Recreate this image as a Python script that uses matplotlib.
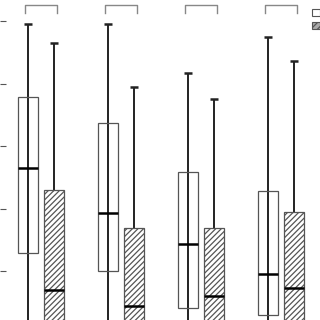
import matplotlib
matplotlib.use("Agg")
import matplotlib.pyplot as plt
from matplotlib.patches import Patch

# values (units of the left ticks)
groups = [1, 2, 3, 4]
open_top = [4.95, 4.95, 4.17, 4.74]
open_q3 = [3.78, 3.37, 2.58, 2.28]
open_med = [2.65, 1.93, 1.43, 0.95]
open_q1 = [1.29, 1.00, 0.41, 0.30]
open_low = [0.0, 0.0, 0.0, 0.0]

hatch_top = [4.65, 3.94, 3.75, 4.36]
hatch_q3 = [2.30, 1.69, 1.69, 1.94]
hatch_med = [0.70, 0.44, 0.60, 0.73]
hatch_q1 = [0.0, 0.0, 0.0, 0.0]
hatch_low = [0.0, 0.0, 0.0, 0.0]

yticks = [1, 2, 3, 4, 5]
legend_labels = ["Control", "Treatment"]

off = 0.1625
w = 0.24

plt.rcParams["hatch.color"] = "#555555"
plt.rcParams["hatch.linewidth"] = 0.9

fig = plt.figure(figsize=(3.2, 3.2), dpi=100)
ax = fig.add_axes([0, 0, 1, 1])

def draw(xs, top, q3, med, q1, low, hatched):
    ax.vlines(xs, low, top, color="#222222", lw=1.4, zorder=1)
    ax.hlines(top, [x - 0.055 for x in xs], [x + 0.055 for x in xs],
              color="#222222", lw=1.8, zorder=3)
    if hatched:
        ax.bar(xs, [a - b for a, b in zip(q3, q1)], bottom=q1, width=w,
               facecolor="white", edgecolor="#555555", hatch="//////",
               lw=0.9, zorder=2)
    else:
        ax.bar(xs, [a - b for a, b in zip(q3, q1)], bottom=q1, width=w,
               facecolor="none", edgecolor="#555555", lw=0.9, zorder=2)
    ax.hlines(med, [x - w / 2 for x in xs], [x + w / 2 for x in xs],
              color="black", lw=1.8, zorder=4)

xo = [g - off for g in groups]
xh = [g + off for g in groups]
draw(xo, open_top, open_q3, open_med, open_q1, open_low, False)
draw(xh, hatch_top, hatch_q3, hatch_med, hatch_q1, hatch_low, True)

# brackets above each pair
for g in groups:
    ax.plot([g - 0.2, g - 0.2, g + 0.2, g + 0.2], [5.13, 5.26, 5.26, 5.13],
            color="#888888", lw=1.0, clip_on=False)

ax.set_xlim(0.4875, 4.4875)
ax.set_ylim(0.216, 5.336)
ax.set_yticks(yticks)
ax.set_yticklabels([])
ax.set_xticks([])
ax.tick_params(axis="y", direction="in", length=4.5, width=0.8, color="#555555")
for s in ax.spines.values():
    s.set_visible(False)

handles = [Patch(facecolor="white", edgecolor="#555555", lw=0.8),
           Patch(facecolor="#aaaaaa", edgecolor="#555555", hatch="/////", lw=0.8)]
ax.legend(handles, legend_labels, loc="upper left",
          bbox_to_anchor=(312 / 320, 1 - 8 / 320), frameon=False,
          handlelength=0.8, handleheight=0.75, handletextpad=0.4,
          labelspacing=0.3, borderpad=0, borderaxespad=0, fontsize=7)

fig.savefig("out.png", dpi=100)
